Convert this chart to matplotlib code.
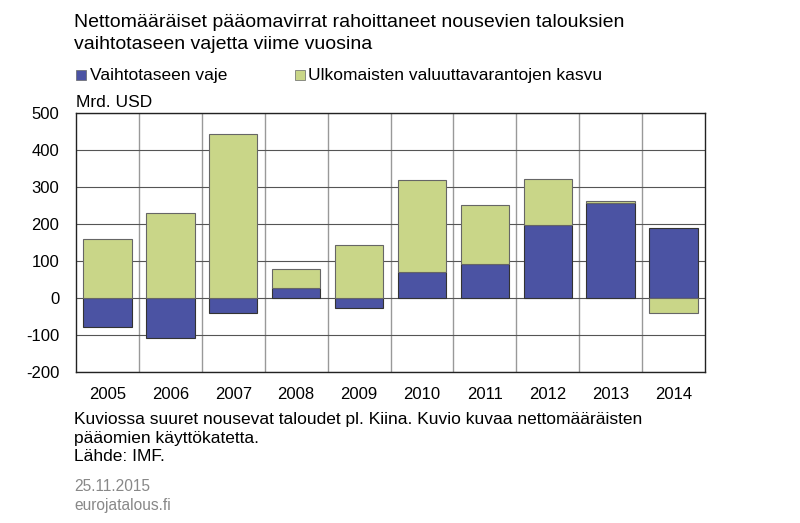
import matplotlib.pyplot as plt
from matplotlib.patches import Rectangle

plt.rcParams['font.family'] = ['Liberation Sans', 'DejaVu Sans']
plt.rcParams['axes.unicode_minus'] = False

years = ['2005', '2006', '2007', '2008', '2009', '2010', '2011', '2012', '2013', '2014']
vaje = [-79, -108, -41, 26, -28, 71, 91, 198, 257, 190]
varannot = [160, 230, 442, 52, 142, 248, 160, 124, 5, -41]

title_lines = ['Nettomääräiset pääomavirrat rahoittaneet nousevien talouksien',
               'vaihtotaseen vajetta viime vuosina']
note_lines = ['Kuviossa suuret nousevat taloudet pl. Kiina. Kuvio kuvaa nettomääräisten',
              'pääomien käyttökatetta.',
              'Lähde: IMF.']
source_lines = ['25.11.2015', 'eurojatalous.fi']

blue = '#4B53A3'
green = '#C9D688'

# green stacks on top of blue only when both are positive
bottoms = [v if (v > 0 and g > 0) else 0 for v, g in zip(vaje, varannot)]

W, H = 800, 523
fig = plt.figure(figsize=(W / 100, H / 100), dpi=100)
ax = fig.add_axes([76 / W, 1 - 372 / H, 629 / W, 259 / H])

x = list(range(len(years)))
ax.bar(x, vaje, width=0.77, color=blue, edgecolor='#333333', linewidth=0.8, zorder=3)
ax.bar(x, varannot, width=0.77, bottom=bottoms, color=green, edgecolor='#666666', linewidth=0.8, zorder=3)

ax.set_xlim(-0.5, len(years) - 0.5)
ax.set_ylim(-200, 500)
ax.set_yticks(range(-200, 501, 100))
ax.set_xticks(x)
ax.set_xticklabels(years)
ax.set_xticks([i + 0.5 for i in x[:-1]], minor=True)
ax.grid(axis='y', which='major', color='#555555', linewidth=0.8, zorder=0)
ax.grid(axis='x', which='minor', color='#999999', linewidth=1.0, zorder=0)
ax.tick_params(axis='both', which='both', length=0, labelsize=12)
ax.tick_params(axis='x', pad=11)
ax.tick_params(axis='y', pad=12)
for s in ax.spines.values():
    s.set_color('#222222')
    s.set_linewidth(1.0)


def px_text(xp, yp, s, **kw):
    # place text by pixel position of its baseline
    fig.text(xp / W, 1 - yp / H, s, va='baseline', ha='left', **kw)


for i, line in enumerate(title_lines):
    px_text(74, 27 + 22 * i, line, fontsize=14)

# legend
fig.patches.append(Rectangle((76 / W, 1 - 80 / H), 10 / W, 10 / H, transform=fig.transFigure,
                             facecolor=blue, edgecolor='#666666', linewidth=0.5))
px_text(90, 80, 'Vaihtotaseen vaje', fontsize=12.5)
fig.patches.append(Rectangle((295 / W, 1 - 80 / H), 10 / W, 10 / H, transform=fig.transFigure,
                             facecolor=green, edgecolor='#666666', linewidth=0.5))
px_text(308, 80, 'Ulkomaisten valuuttavarantojen kasvu', fontsize=12.5)

px_text(76, 107, 'Mrd. USD', fontsize=12.5)

for i, line in enumerate(note_lines):
    px_text(74, 424 + 18.7 * i, line, fontsize=12.5)
for i, line in enumerate(source_lines):
    px_text(74, 491 + 19 * i, line, fontsize=11.2, color='#888888')

fig.savefig('out.png', dpi=100)
